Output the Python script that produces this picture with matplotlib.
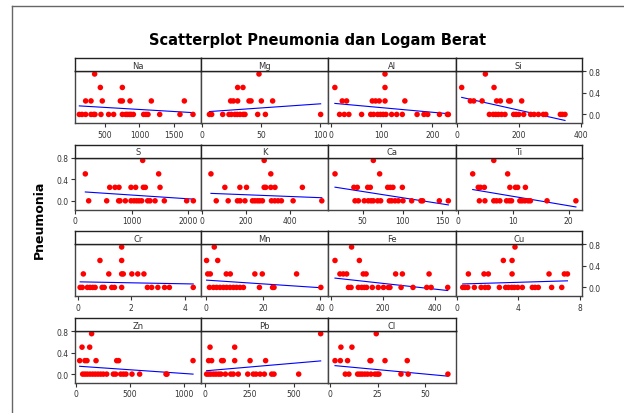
import matplotlib
matplotlib.use("Agg")
import matplotlib.pyplot as plt
from matplotlib.lines import Line2D
import numpy as np

# pneumonia level -> metal values
levels = [0.75, 0.5, 0.25, 0.0]

na = {0.75: [356], 0.5: [438, 754],
      0.25: [227, 304, 466, 725, 754, 864, 1170, 1644],
      0.0: [136, 175, 227, 304, 342, 361, 447, 557, 629, 754, 801, 825, 854, 878,
            912, 1060, 1093, 1122, 1290, 1581, 1768]}
mg = {0.75: [48.3], 0.5: [30.3, 34.8],
      0.25: [24.4, 26.7, 30.3, 39.9, 41.6, 50.3, 59.8],
      0.0: [6.5, 8.4, 17.7, 23, 25, 28, 30, 32.3, 35, 36.5, 47.2, 53.7, 100.3]}
al = {0.75: [107], 0.5: [8.5, 107],
      0.25: [23, 31.5, 82, 88.5, 95.7, 107, 146],
      0.0: [17.7, 27, 36, 61, 79, 84.6, 92.5, 98, 103.6, 108.8, 120, 130, 141, 170,
            183.6, 191, 214, 229.6, 231.5]}
si = {0.75: [90.6], 0.5: [14, 118.6],
      0.25: [42, 53, 80, 127, 139, 166, 171, 208],
      0.0: [103.5, 116, 124, 132.6, 143, 154, 182, 190, 199, 214.5, 237, 248, 262,
            278, 286, 333, 339.6, 348]}
s = {0.75: [1194], 0.5: [182, 1476],
     0.25: [612, 706, 776, 988, 1070, 1206, 1241, 1500],
     0.0: [241, 559, 770, 794, 888, 988, 1041, 1088, 1130, 1176, 1282, 1323, 1412,
           1576, 1970, 2088]}
k = {0.75: [283], 0.5: [42, 313],
     0.25: [105, 173, 203, 283, 290, 313, 332, 456],
     0.0: [66, 120, 162, 174, 196, 230, 241, 253, 263, 275, 316, 331, 346, 361, 414, 544]}
ca = {0.75: [63.4], 0.5: [15.3, 71.3],
      0.25: [39, 43.3, 56.3, 59.6, 81.4, 84.7, 88, 99.8],
      0.0: [40.4, 44.6, 52, 57, 60.5, 63.4, 68.8, 72.6, 83.5, 86.4, 90.6, 94.8, 100.6,
            111.5, 123.2, 125.3, 146.2, 157.5]}
ti = {0.75: [6.5], 0.5: [2.7, 9.0],
      0.25: [3.7, 4.1, 4.8, 9.4, 10.4, 10.8, 12.2],
      0.0: [3.9, 4.9, 6.5, 7.0, 7.6, 8.8, 9.3, 9.7, 11.2, 11.6, 12.1, 12.7, 13.1, 16.1, 21.3]}
cr = {0.75: [1.64], 0.5: [0.83, 1.64],
      0.25: [0.21, 1.16, 1.64, 1.70, 2.02, 2.24, 2.47],
      0.0: [0.09, 0.17, 0.36, 0.46, 0.56, 0.65, 0.91, 0.99, 1.27, 1.37, 1.64, 2.60,
            2.76, 2.99, 3.24, 3.42, 4.31]}
mn = {0.75: [2.9], 0.5: [0.2, 4.1],
      0.25: [0.6, 1.5, 7.1, 8.5, 17.1, 19.7, 31.7],
      0.0: [1.2, 2.6, 3.7, 4.9, 6.1, 7.2, 8.4, 9.6, 10.7, 11.9, 13.1, 18.7, 23.3, 23.8, 40.2]}
fe = {0.75: [78], 0.5: [14, 108],
      0.25: [33, 46, 59, 123, 134, 248, 274, 377],
      0.0: [66, 76, 104, 117, 127, 136, 158, 181, 201, 220, 226, 269, 315, 368, 385, 449]}
cu = {0.75: [3.78], 0.5: [3.02, 3.59],
      0.25: [0.74, 1.76, 2.04, 3.59, 6.0, 7.0, 7.2],
      0.0: [0.37, 0.52, 0.70, 1.13, 1.57, 1.83, 2.04, 2.76, 3.17, 3.35, 3.57, 3.74,
            3.96, 4.26, 4.91, 5.09, 5.30, 6.17, 6.83]}
zn = {0.75: [142], 0.5: [53, 124],
      0.25: [31, 80, 99, 183, 375, 393, 1084],
      0.0: [59, 80, 102, 127, 152, 176, 201, 226, 251, 282, 344, 365, 412, 437, 461,
            517, 588, 833, 842]}
pb = {0.75: [649], 0.5: [30, 168],
      0.25: [22, 39, 95, 104, 168, 254, 341],
      0.0: [11, 22, 34, 49, 63, 78, 91, 116, 146, 160, 188, 241, 272, 287, 310, 334,
            375, 388, 526]}
cl = {0.75: [24.2], 0.5: [5.6, 11.4],
      0.25: [2.5, 5.3, 9.1, 20.9, 21.4, 28.8, 40.5],
      0.0: [7.9, 9.8, 14.4, 15.6, 16.8, 18.2, 19.6, 21.4, 23.5, 24.7, 25.6, 37.2, 41.0, 61.9]}

names = ["Na", "Mg", "Al", "Si", "S", "K", "Ca", "Ti",
         "Cr", "Mn", "Fe", "Cu", "Zn", "Pb", "Cl"]
series = [na, mg, al, si, s, k, ca, ti, cr, mn, fe, cu, zn, pb, cl]

# fitted line: pneumonia at lowest and highest metal value
fit_ends = [(0.158, 0.033), (0.053, 0.197), (0.204, 0.013), (0.316, -0.112),
            (0.164, 0.031), (0.138, 0.057), (0.253, -0.076), (0.209, -0.114),
            (0.103, 0.064), (0.135, -0.006), (0.173, -0.058), (0.064, 0.122),
            (0.145, 0.0), (0.063, 0.245), (0.157, -0.038)]

xlims = [(67, 1883), (-0.6, 106.5), (-5, 245.5), (-6, 403),
         (-9, 2223), (-3, 572), (6.5, 166.5), (-0.4, 22.4),
         (-0.12, 4.6), (-1.75, 42.7), (-13, 479), (-0.1, 8.15),
         (-17, 1158), (-20.5, 690), (-1.2, 65.9)]
xticks = [[500, 1000, 1500], [0, 50, 100], [0, 100, 200], [0, 200, 400],
          [0, 1000, 2000], [0, 200, 400], [50, 100, 150], [0, 10, 20],
          [0, 2, 4], [0, 20, 40], [0, 200, 400], [0, 4, 8],
          [0, 500, 1000], [0, 250, 500], [0, 25, 50]]

W, H = 624, 414
fig = plt.figure(figsize=(W / 100, H / 100), dpi=100)

col_edges = [74.5, 201, 328, 455.5, 582]
row_tops = [59.3, 145.7, 232.3, 319]
strip_h = 13
panel_h = 52
edge = "#444444"

for i, name in enumerate(names):
    r, c = divmod(i, 4)
    x0, x1 = col_edges[c], col_edges[c + 1]
    top = row_tops[r]
    ax = fig.add_axes([x0 / W, 1 - (top + strip_h + panel_h) / H,
                       (x1 - x0) / W, panel_h / H])
    st = fig.add_axes([x0 / W, 1 - (top + strip_h) / H, (x1 - x0) / W, strip_h / H])

    d = series[i]
    xs, ys = [], []
    for lv in levels:
        xs += d[lv]
        ys += [lv] * len(d[lv])
    xs = np.array(xs)
    ys = np.array(ys)
    ax.scatter(xs, ys, s=16, color="#ff0000", edgecolors="none", zorder=3)
    ax.plot([xs.min(), xs.max()], fit_ends[i], color="#0000ff", lw=0.8, zorder=2)

    ax.set_xlim(xlims[i])
    ax.set_ylim(-0.165, 0.8)
    ax.set_xticks(xticks[i])
    ax.set_yticks([0.0, 0.4, 0.8])
    ax.yaxis.set_major_formatter(plt.FormatStrFormatter("%.1f"))
    ax.tick_params(direction="out", length=3, width=0.8, labelsize=5.5, pad=1.5,
                   colors="#333333")
    if c == 0 and r in (1, 3):
        ax.tick_params(axis="y", left=True, labelleft=True, right=False)
    elif c == 3 and r in (0, 2):
        ax.tick_params(axis="y", left=False, labelleft=False, right=True, labelright=True)
    else:
        ax.tick_params(axis="y", left=False, labelleft=False)
    for sp in ax.spines.values():
        sp.set_color(edge)
        sp.set_linewidth(1.0)

    st.set_xticks([])
    st.set_yticks([])
    for sp in st.spines.values():
        sp.set_color("#222222")
        sp.set_linewidth(1.0)
    st.text(0.5, 0.45, name, ha="center", va="center", fontsize=6, color="#333333",
            transform=st.transAxes)

fig.text(318 / W, 1 - 41 / H, "Scatterplot Pneumonia dan Logam Berat",
         ha="center", va="center", fontsize=10.5, fontweight="bold")
fig.text(39 / W, 1 - 220 / H, "Pneumonia", rotation=90, ha="center", va="center",
         fontsize=9, fontweight="bold")

# outer frame of the graph window
fig.add_artist(Line2D([12 / W, 12 / W], [0, 1 - 7 / H], color="#666666", lw=1))
fig.add_artist(Line2D([12 / W, 1], [1 - 7 / H, 1 - 7 / H], color="#666666", lw=1))

fig.savefig("out.png", dpi=100)
